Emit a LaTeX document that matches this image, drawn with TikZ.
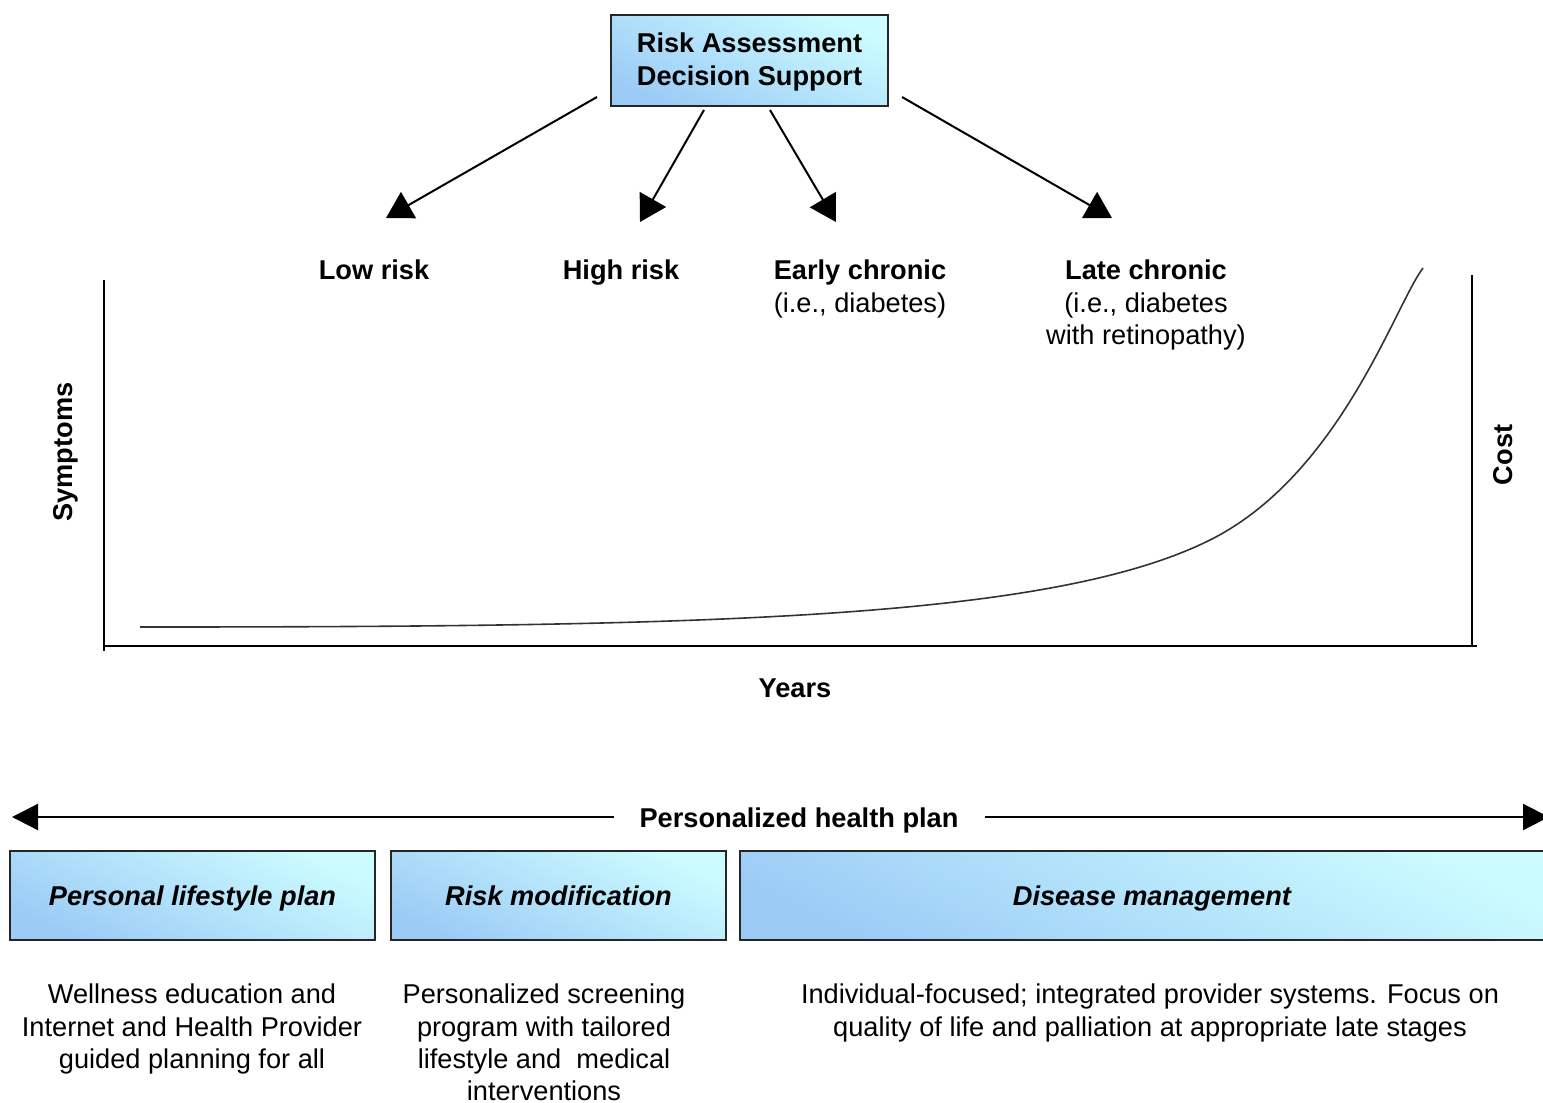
\documentclass[tikz,border=0pt]{standalone}
\usepackage{fontspec}
\setmainfont{Liberation Sans}
\usetikzlibrary{arrows.meta}
\definecolor{boxtop}{HTML}{CCFCFF}
\definecolor{boxbot}{HTML}{9CCBF6}
\definecolor{curvecol}{HTML}{333333}
\begin{document}
\begin{tikzpicture}[x=0.5pt,y=-0.5pt,
  bluebox/.style={draw=black!85,line width=1pt,top color=boxtop,bottom color=boxbot,shading angle=-25,inner sep=0pt},
  riskarrow/.style={line width=1pt,-{Triangle[length=13pt,width=15pt]}},
  bigfont/.style={font=\fontsize{13.6}{16.25}\selectfont\bfseries},
  stagelabel/.style={bigfont,align=center,anchor=north},
  sublabel/.style={font=\fontsize{13.6}{16.25}\selectfont,align=center,anchor=north},
  desc/.style={font=\fontsize{13.6}{16.2}\selectfont,align=center,anchor=north},
  axisline/.style={line width=1.4pt},
  boxlabel/.style={font=\fontsize{13.6}{16}\selectfont\bfseries\itshape,anchor=base}]
\clip (0,0) rectangle (1543,1103);
% top box
\path[bluebox] (611,15) rectangle (888,106);
\node[bigfont,align=center] (top) at (749.5,62) {Risk Assessment\\Decision Support};
% arrow end points
\coordinate (s1) at (597,97);  \coordinate (e1) at (386,218);
\coordinate (s2) at (704,110); \coordinate (e2) at (640,222);
\coordinate (s3) at (770,110); \coordinate (e3) at (836,222);
\coordinate (s4) at (902,97);  \coordinate (e4) at (1112,218);
\draw[riskarrow] (s1) -- (e1);
\draw[riskarrow] (s2) -- (e2);
\draw[riskarrow] (s3) -- (e3);
\draw[riskarrow] (s4) -- (e4);
% stage labels
\node[stagelabel] (low) at (374,253) {Low risk};
\node[stagelabel] (high) at (621,253) {High risk};
\node[stagelabel] (early) at (860,253) {Early chronic};
\node[sublabel] (earlys) at (860,285.5) {(i.e., diabetes)};
\node[stagelabel] (late) at (1146,253) {Late chronic};
\node[sublabel] (lates) at (1146,285.5) {(i.e., diabetes\\with retinopathy)};
% axes
\coordinate (ltop) at (104,280);
\coordinate (lbot) at (104,651);
\coordinate (bl) at (104,646);
\coordinate (br) at (1477,646);
\coordinate (rtop) at (1472,275);
\coordinate (rbot) at (1472,646);
\draw[axisline] (ltop) -- (lbot);
\draw[axisline] (bl) -- (br);
\draw[axisline] (rtop) -- (rbot);
% curve
\coordinate (k0) at (140,627);
\coordinate (k2) at (1210,540);
\coordinate (k4) at (1423,268);
\draw[curvecol,line width=0.8pt] (k0) .. controls (700,627) and (1050,620) .. (k2)
  .. controls (1340,475) and (1395,305) .. (k4);
\node[bigfont,rotate=90] (symp) at (66,452) {Symptoms};
\node[bigfont,rotate=90] (cost) at (1503,455) {Cost};
\node[bigfont] (years) at (795,688) {Years};
% personalized health plan arrow
\node[bigfont,inner sep=0pt] (php) at (799,820) {Personalized health plan};
\coordinate (pl) at (12,817);
\coordinate (pr) at (1549,817);
\coordinate (gl) at (614,817);
\coordinate (gr) at (985,817);
\draw[line width=1.1pt,-{Triangle[length=13pt,width=13pt]}] (gl) -- (pl);
\draw[line width=1.1pt,-{Triangle[length=13pt,width=13pt]}] (gr) -- (pr);
% bottom boxes
\path[bluebox] (10,851) rectangle (375,940);
\node[boxlabel] (b1) at (192.5,905) {Personal lifestyle plan};
\path[bluebox] (391,851) rectangle (726,940);
\node[boxlabel] (b2) at (558.5,905) {Risk modification};
\path[bluebox] (740,851) rectangle (1560,940);
\node[boxlabel] (b3) at (1152,905) {Disease management};
% descriptions
\node[desc] (d1) at (192,977) {Wellness education and\\Internet and Health Provider\\guided planning for all};
\node[desc] (d2) at (544,977) {Personalized screening\\program with tailored\\lifestyle and\ \ medical\\interventions};
\node[desc] (d3) at (1150,977) {Individual-focused; integrated provider systems. Focus on\\quality of life and palliation at appropriate late stages};
\end{tikzpicture}
\end{document}
